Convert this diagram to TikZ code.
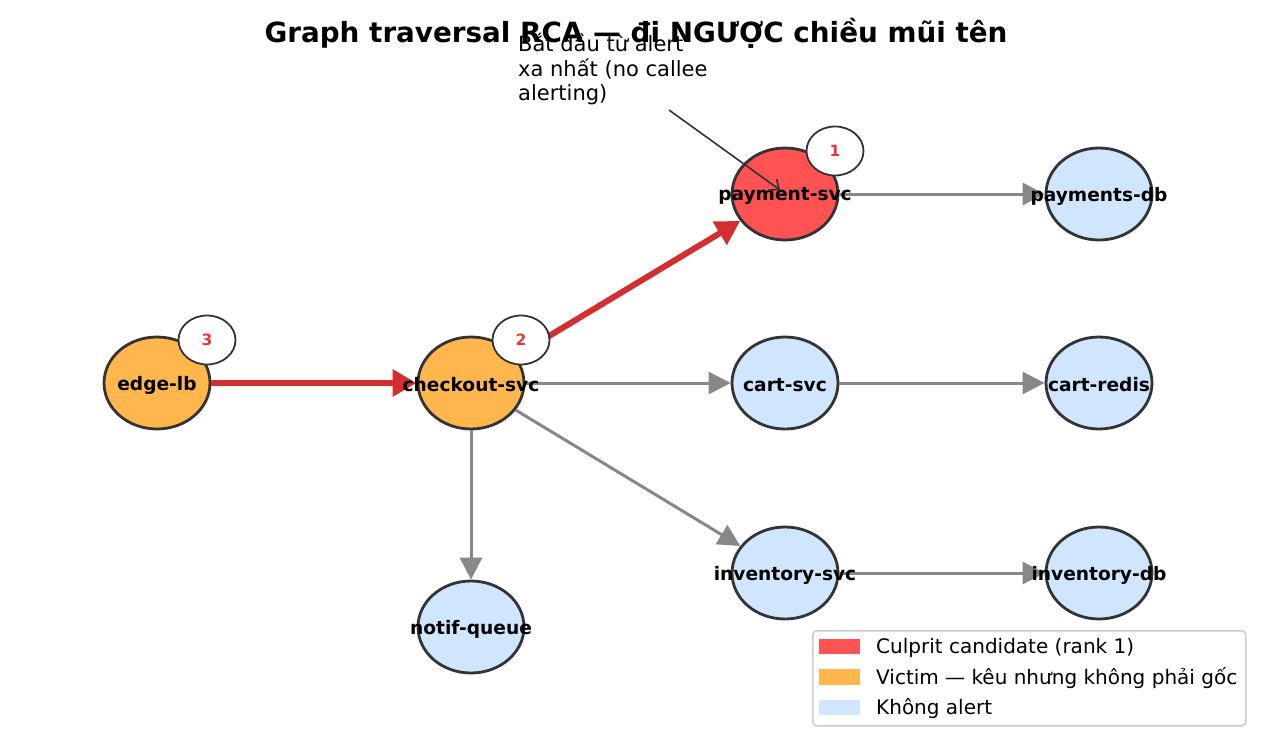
\documentclass[tikz,border=0pt]{standalone}
\usepackage{fontspec}
\setmainfont{DejaVu Sans}
\usetikzlibrary{shapes.geometric,arrows.meta}
\definecolor{culprit}{HTML}{FF5252}
\definecolor{victim}{HTML}{FFB74D}
\definecolor{quiet}{HTML}{D0E6FF}
\definecolor{rim}{HTML}{333333}
\definecolor{hotpath}{HTML}{D32F2F}
\definecolor{rankred}{HTML}{E53935}
\definecolor{callgray}{HTML}{888888}
\definecolor{legendrim}{HTML}{CCCCCC}

\begin{document}
\begin{tikzpicture}[x=1pt,y=-1pt,
    svc/.style={ellipse,draw=rim,line width=2.8pt,minimum width=106pt,minimum height=92pt,inner sep=0pt},
    svcname/.style={font=\fontsize{18.6}{22}\selectfont\bfseries,inner sep=0pt,yshift=-2pt},
    badge/.style={ellipse,draw=rim,fill=white,line width=1.8pt,minimum width=57pt,minimum height=49pt,
      inner sep=0pt,text=rankred,font=\fontsize{15.5}{18}\selectfont\bfseries},
    call/.style={draw=callgray,line width=3pt,-{Triangle[length=22pt,width=22pt]}},
    hot/.style={draw=hotpath,line width=6pt,-{Triangle[length=24pt,width=26pt]}},
    swatch/.style={minimum width=41pt,minimum height=15.5pt,inner sep=0pt},
    keytext/.style={anchor=west,inner sep=0pt,font=\fontsize{20}{24}\selectfont}]
  \useasboundingbox (0,0) rectangle (1272,752);

  % title
  \node[anchor=base,inner sep=0pt,font=\fontsize{27.8}{32}\selectfont\bfseries] (title) at (636,43)
    {Graph traversal RCA — đi NGƯỢC chiều mũi tên};

  % services
  \node[svc,fill=victim] (edge) at (157,383) {};
  \node[svc,fill=victim] (checkout) at (471,383) {};
  \node[svc,fill=culprit] (payment) at (785,194) {};
  \node[svc,fill=quiet] (cart) at (785,383) {};
  \node[svc,fill=quiet] (inventory) at (785,573) {};
  \node[svc,fill=quiet] (notif) at (471,627) {};
  \node[svc,fill=quiet] (paydb) at (1099,194) {};
  \node[svc,fill=quiet] (redis) at (1099,383) {};
  \node[svc,fill=quiet] (invdb) at (1099,573) {};

  % calls
  \draw[hot] (edge) -- (checkout);
  \draw[hot] (checkout) -- (payment);
  \draw[call] (checkout) -- (cart);
  \draw[call] (checkout) -- (inventory);
  \draw[call] (checkout) -- (notif);
  \draw[call] (payment) -- (paydb);
  \draw[call] (cart) -- (redis);
  \draw[call] (inventory) -- (invdb);

  % traversal order
  \node[badge] (rank1) at ([shift={(50,-43)}]payment.center) {1};
  \node[badge] (rank2) at ([shift={(50,-43)}]checkout.center) {2};
  \node[badge] (rank3) at ([shift={(50,-43)}]edge.center) {3};

  \node[svcname] (edge-txt) at (edge) {edge-lb};
  \node[svcname] (checkout-txt) at (checkout) {checkout-svc};
  \node[svcname] (payment-txt) at (payment) {payment-svc};
  \node[svcname] (cart-txt) at (cart) {cart-svc};
  \node[svcname] (inventory-txt) at (inventory) {inventory-svc};
  \node[svcname] (notif-txt) at (notif) {notif-queue};
  \node[svcname] (paydb-txt) at (paydb) {payments-db};
  \node[svcname] (redis-txt) at (redis) {cart-redis};
  \node[svcname] (invdb-txt) at (invdb) {inventory-db};

  % annotation
  \node[anchor=north west,inner sep=0pt,align=left,font=\fontsize{21}{24.5}\selectfont] (hint) at (518,33)
    {Bắt đầu từ alert\\xa nhất (no callee\\alerting)};
  \coordinate (hint-from) at (669,110);
  \coordinate (hint-to) at (780,190);
  \draw[draw=rim,line width=1.6pt,-{Straight Barb[length=8pt,width=14pt]}] (hint-from) -- (hint-to);

  % legend
  \node[draw=legendrim,fill=white,rounded corners=4pt,line width=1.5pt,minimum width=433pt,
    minimum height=95pt,inner sep=0pt,anchor=north west] (legend) at (812,630) {};
  \node[swatch,fill=culprit] (key1) at (839.5,646.5) {};
  \node[swatch,fill=victim] (key2) at (839.5,677) {};
  \node[swatch,fill=quiet] (key3) at (839.5,707.5) {};
  \node[keytext] (key1-txt) at (876,647.5) {Culprit candidate (rank 1)};
  \node[keytext] (key2-txt) at (876,678) {Victim — kêu nhưng không phải gốc};
  \node[keytext] (key3-txt) at (876,708.5) {Không alert};
\end{tikzpicture}
\end{document}
